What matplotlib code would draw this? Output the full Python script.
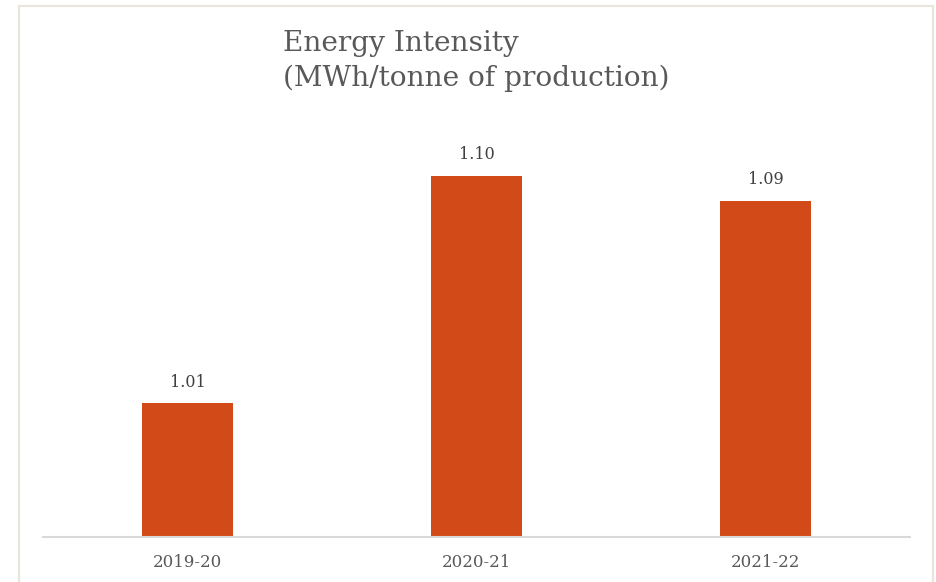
import matplotlib
matplotlib.use("Agg")
import matplotlib.pyplot as plt
from matplotlib.patches import Rectangle

years = ["2019-20", "2020-21", "2021-22"]
intensity = [1.01, 1.10, 1.09]

W, H, DPI = 936, 582, 100
fig = plt.figure(figsize=(W / DPI, H / DPI), dpi=DPI)

# chart frame
fig.patches.append(Rectangle((19 / W, -0.05), (933 - 19) / W, (H - 6) / H + 0.05,
                             transform=fig.transFigure, fill=False,
                             edgecolor="#e9e5dc", linewidth=1.6))

left, right, bottom, top = 43, 910, 537, 110
ax = fig.add_axes([left / W, 1 - bottom / H, (right - left) / W, (bottom - top) / H])

bar_color = "#d24a17"
x = range(len(years))
bars = ax.bar(x, intensity, width=0.315, color=bar_color)
ymin = 0.957
ax.set_ylim(ymin, ymin + (bottom - top) / 2527)
ax.set_xlim(-0.5, len(years) - 0.5)

for b, v in zip(bars, intensity):
    ax.annotate(f"{v:.2f}", (b.get_x() + b.get_width() / 2, v),
                xytext=(0, 9), textcoords="offset points", ha="center", va="bottom",
                fontsize=11.5, color="#404040", family="DejaVu Serif")

ax.set_xticks(list(x))
ax.set_xticklabels(years, fontsize=12, color="#595959", family="DejaVu Serif")
ax.tick_params(axis="x", length=0, pad=12)
ax.set_yticks([])
for s in ("left", "right", "top"):
    ax.spines[s].set_visible(False)
ax.spines["bottom"].set_color("#d9d9d9")
ax.spines["bottom"].set_linewidth(1.5)

fig.text(283 / W, 1 - 30 / H, "Energy Intensity\n(MWh/tonne of production)",
         ha="left", va="top", fontsize=20.2, color="#595959", family="DejaVu Serif",
         linespacing=1.38)

fig.savefig("out.png", dpi=DPI, facecolor="white")
